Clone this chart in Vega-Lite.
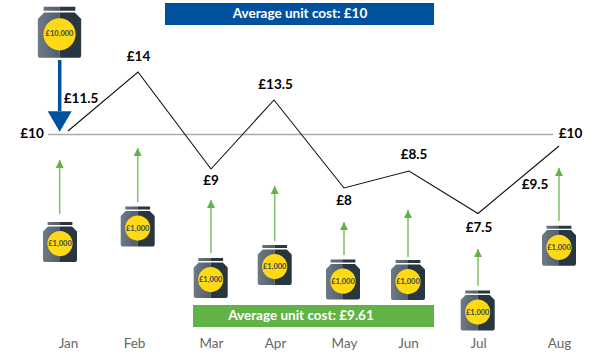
{
"$schema":"https://vega.github.io/schema/vega-lite/v6.json",
"width":600,"height":330,"padding":{"left":0,"top":0,"right":0,"bottom":25},"autosize":{"type":"none"},"background":"white",
"config":{"view":{"stroke":null},"font":"Lato"},
"datasets":{
"line":[{"month":"Jan","x":68,"y":131},{"month":"Feb","x":138,"y":72},{"month":"Mar","x":211,"y":169},{"month":"Apr","x":274,"y":100},{"month":"May","x":344,"y":188},{"month":"Jun","x":409,"y":171},{"month":"Jul","x":478,"y":213.5},{"month":"Aug","x":559,"y":146}],
"avg":[{"x":48,"x2":553,"y":134.5,"y2":134.5}],
"banners":[{"x":165,"x2":434,"y":3,"y2":25,"tx":300,"ty":13.5,"text":"Average unit cost: £10","kind":"blue"},{"x":193,"x2":434,"y":305,"y2":327,"tx":301,"ty":316,"text":"Average unit cost: £9.61","kind":"green"}],
"labels":[{"x":81,"y":99,"text":"£11.5"},{"x":138.5,"y":57,"text":"£14"},{"x":32,"y":133.5,"text":"£10"},{"x":211,"y":181,"text":"£9"},{"x":275.5,"y":85,"text":"£13.5"},{"x":344,"y":201,"text":"£8"},{"x":414,"y":155,"text":"£8.5"},{"x":479,"y":228,"text":"£7.5"},{"x":535,"y":185,"text":"£9.5"},{"x":570.5,"y":133.5,"text":"£10"}],
"green":[{"month":"Jan","x":59.7,"y":160,"y2":214},{"month":"Feb","x":137.7,"y":148,"y2":202},{"month":"Mar","x":211,"y":200,"y2":253},{"month":"Apr","x":274.7,"y":186,"y2":241},{"month":"May","x":344,"y":222,"y2":255},{"month":"Jun","x":408,"y":210,"y2":257},{"month":"Jul","x":478,"y":249,"y2":286},{"month":"Aug","x":559,"y":168,"y2":221}],
"blue":[{"x":59.7,"y":131.7,"y2":60,"yb":111}],
"jars":[{"label":"£10,000","amount":10000,"x":59.5,"y":32.3},{"label":"£1,000","amount":1000,"x":60,"y":242},{"label":"£1,000","amount":1000,"x":137.7,"y":226.5},{"label":"£1,000","amount":1000,"x":210.7,"y":278},{"label":"£1,000","amount":1000,"x":274.7,"y":265},{"label":"£1,000","amount":1000,"x":343,"y":279.6},{"label":"£1,000","amount":1000,"x":408,"y":280},{"label":"£1,000","amount":1000,"x":477.7,"y":310.5},{"label":"£1,000","amount":1000,"x":559,"y":245.7}]
},
"encoding":{
  "x":{"field":"x","type":"quantitative","scale":{"domain":[0,600],"nice":false,"zero":false},
    "axis":{"title":null,"domain":false,"ticks":false,"grid":false,"labelAngle":0,"labelFontSize":13.5,"labelColor":"#666666","labelPadding":6,"labelOverlap":false,"labelFlush":false,
      "values":[68,134,211,275,344,408,478,559],
      "labelExpr":"{'68':'Jan','134':'Feb','211':'Mar','275':'Apr','344':'May','408':'Jun','478':'Jul','559':'Aug'}[datum.value]"}},
  "y":{"field":"y","type":"quantitative","scale":{"domain":[330,0],"nice":false,"zero":false},"axis":null}},
"layer":[
 {"data":{"name":"banners"},"mark":{"type":"rect"},
  "encoding":{"x2":{"field":"x2"},"y2":{"field":"y2"},
   "color":{"field":"kind","type":"nominal","legend":null,"scale":{"domain":["blue","green"],"range":["#00529F","#62B346"]}}}},
 {"data":{"name":"banners"},"mark":{"type":"text","fontSize":13.5,"fontWeight":"bold","color":"white","align":"center","baseline":"middle"},
  "encoding":{"x":{"field":"tx","type":"quantitative"},"y":{"field":"ty","type":"quantitative"},"text":{"field":"text"}}},
 {"data":{"name":"avg"},"mark":{"type":"rule","color":"#ababab","strokeWidth":1.5},"encoding":{"x2":{"field":"x2"}}},
 {"data":{"name":"line"},"mark":{"type":"line","color":"#111111","strokeWidth":1.1},"encoding":{"order":{"field":"x"}}},
 {"data":{"name":"green"},"mark":{"type":"rule","color":"#7cc163","strokeWidth":1.5},"encoding":{"y2":{"field":"y2"}}},
 {"data":{"name":"green"},"mark":{"type":"point","shape":"M0,0 L1,2 L-1,2 Z","size":64,"filled":true,"opacity":1,"color":"#62B346"}},
 {"data":{"name":"blue"},"mark":{"type":"rule","color":"#00529F","strokeWidth":3.5},"encoding":{"y":{"field":"yb","type":"quantitative"},"y2":{"field":"y2"}}},
 {"data":{"name":"blue"},"mark":{"type":"point","shape":"M0,0 L1,-1.7 L-1,-1.7 Z","size":576,"filled":true,"opacity":1,"color":"#00529F"}},
 {"data":{"name":"labels"},"mark":{"type":"text","fontSize":13.5,"fontWeight":"bold","color":"#000000","align":"center","baseline":"middle"},"encoding":{"text":{"field":"text"}}},
 {"data":{"name":"jars"},"mark":{"type":"point","shape":"M-0.62,-1 L0,-1 L0,-0.85 L-0.62,-0.85 Z M-0.6,-0.78 L0,-0.78 L0,1 L-0.75,1 Q-0.85,1 -0.85,0.9 L-0.85,-0.52 Z","filled":true,"opacity":1,"stroke":null,"color":{"gradient":"linear","x1":0,"y1":0,"x2":1,"y2":0,"stops":[{"offset":0,"color":"#6e7b87"},{"offset":1,"color":"#515d69"}]}},
  "encoding":{"size":{"field":"amount","type":"quantitative","legend":null,"scale":{"domain":[1000,10000],"range":[1600,2600]}}}},
 {"data":{"name":"jars"},"mark":{"type":"point","shape":"M0,-1 L0.62,-1 L0.62,-0.85 L0,-0.85 Z M0,-0.78 L0.6,-0.78 L0.85,-0.52 L0.85,0.9 Q0.85,1 0.75,1 L0,1 Z","filled":true,"opacity":1,"stroke":null,"color":"#27363F"},
  "encoding":{"size":{"field":"amount","type":"quantitative","legend":null,"scale":{"domain":[1000,10000],"range":[1600,2600]}}}},
 {"data":{"name":"jars"},"mark":{"type":"point","shape":"M-0.63,0.08 A0.63,0.63 0 1,1 0.63,0.08 A0.63,0.63 0 1,1 -0.63,0.08 Z","filled":true,"opacity":1,"stroke":null,"color":"#FFD914"},
  "encoding":{"size":{"field":"amount","type":"quantitative","legend":null,"scale":{"domain":[1000,10000],"range":[1600,2600]}}}},
 {"data":{"name":"jars"},"mark":{"type":"text","fontSize":7.5,"fontWeight":"bold","color":"#3d4650","align":"center","baseline":"middle","dy":2},"encoding":{"text":{"field":"label"}}}
]
}
